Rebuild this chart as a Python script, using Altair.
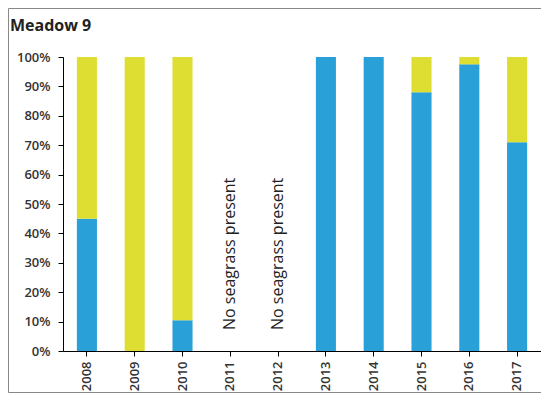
import altair as alt
import pandas as pd

years = ["2008", "2009", "2010", "2011", "2012", "2013", "2014", "2015", "2016", "2017"]
blue_pct = [45, 0, 10.5, None, None, 100, 100, 88, 97.5, 71]
yellow_pct = [55, 100, 89.5, None, None, 0, 0, 12, 2.5, 29]
no_seagrass_years = ["2011", "2012"]
no_seagrass_label = "No seagrass present"
title_text = "Meadow 9"

rows = []
for y, b, yl in zip(years, blue_pct, yellow_pct):
    rows.append({"year": y, "series": "Blue", "value": b, "ord": 0})
    rows.append({"year": y, "series": "Yellow", "value": yl, "ord": 1})
df = pd.DataFrame(rows)

W, H = 478, 294
FONT = "Open Sans"

xscale = alt.Scale(domain=years, paddingInner=0.58, paddingOuter=0.29)

bars = alt.Chart(df).mark_bar().encode(
    x=alt.X("year:N", scale=xscale, sort=years,
            axis=alt.Axis(title=None, labelAngle=270, labelAlign="right",
                          labelBaseline="middle", labelPadding=5, tickSize=5)),
    y=alt.Y("value:Q", stack="zero",
            scale=alt.Scale(domain=[0, 100], nice=False),
            axis=alt.Axis(title=None, values=list(range(0, 101, 10)),
                          labelExpr="datum.value + '%'", tickSize=5,
                          labelPadding=8, grid=False)),
    color=alt.Color("series:N",
                    scale=alt.Scale(domain=["Blue", "Yellow"], range=["#29A0D8", "#DEDE32"]),
                    legend=None),
    order=alt.Order("ord:Q"),
)

nosg = alt.Chart(pd.DataFrame({"year": no_seagrass_years, "label": [no_seagrass_label] * 2})).mark_text(
    angle=270, align="left", baseline="middle", fontSize=16, font=FONT, color="#222222"
).encode(
    x=alt.X("year:N", scale=xscale, sort=years),
    y=alt.value(H - 21),
    text="label:N",
)

title = alt.Chart(alt.Data(values=[{"t": title_text}])).mark_text(
    align="left", baseline="alphabetic", fontSize=16, fontWeight="bold", font=FONT, color="#222222"
).encode(x=alt.value(-53), y=alt.value(-26), text="t:N")

border = alt.Chart(alt.Data(values=[{}])).mark_rect(
    fill=None, stroke="#888888", strokeWidth=1
).encode(x=alt.value(-54.5), x2=alt.value(W + 20), y=alt.value(-48.5), y2=alt.value(H + 41.5))

chart = alt.layer(bars, nosg, title, border).properties(
    width=W, height=H,
    autosize=alt.AutoSizeParams(type="none"),
    padding={"left": 55, "top": 49, "right": 0, "bottom": 42},
).configure_view(stroke=None).configure_axis(
    domainColor="#000000", tickColor="#000000", labelColor="#333333",
    labelFont=FONT, labelFontSize=13, labelFontWeight=600, domainWidth=1
)

chart.save("out.html", embed_options={"renderer": "svg", "actions": False})
